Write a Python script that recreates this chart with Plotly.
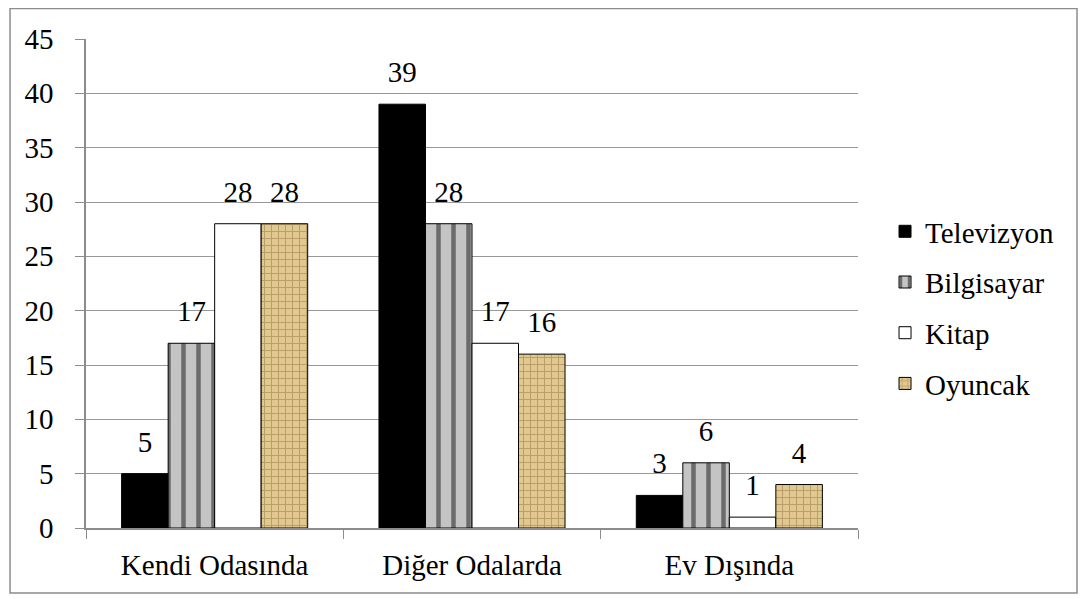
import plotly.graph_objects as go

categories = ["Kendi Odasında", "Diğer Odalarda", "Ev Dışında"]
series_names = ["Televizyon", "Bilgisayar", "Kitap", "Oyuncak"]
televizyon = [5, 39, 3]
bilgisayar = [17, 28, 6]
kitap = [28, 17, 1]
oyuncak = [28, 16, 4]
y_ticks = [0, 5, 10, 15, 20, 25, 30, 35, 40, 45]

FONT = "Liberation Serif"
FS = 29
GAP = 0.277

styles = [
    dict(color="#000000"),
    dict(color="#c4c4c4", pattern=dict(shape="|", fgcolor="#111111", bgcolor="#c4c4c4", size=15, solidity=0.3)),
    dict(color="#ffffff"),
    dict(color="#e0c88f", pattern=dict(shape="+", fgcolor="#8f7040", bgcolor="#e0c88f", size=7, solidity=0.25)),
]

fig = go.Figure()
all_vals = [televizyon, bilgisayar, kitap, oyuncak]
for i, (name, vals) in enumerate(zip(series_names, all_vals)):
    fig.add_trace(go.Bar(
        name=name, x=categories, y=vals,
        legendgroup=name, offsetgroup=str(i),
        marker=dict(line=dict(color="#000", width=1), **styles[i]),
        hoverinfo="skip",
    ))
for i, (name, vals) in enumerate(zip(series_names, all_vals)):
    fig.add_trace(go.Scatter(
        x=categories, y=vals, mode="markers+text",
        text=[str(v) for v in vals], textposition="top center",
        textfont=dict(family=FONT, size=FS, color="#000"),
        marker=dict(size=22, opacity=0),
        offsetgroup=str(i), showlegend=False, cliponaxis=False,
        hoverinfo="skip",
    ))

fig.update_layout(
    width=1078, height=591,
    paper_bgcolor="white", plot_bgcolor="white",
    barmode="group", bargap=GAP, bargroupgap=0,
    scattermode="group", scattergap=GAP,
    margin=dict(l=78, r=228, t=31, b=71),
    font=dict(family=FONT, size=FS, color="#000"),
    showlegend=True,
    legend=dict(x=1.035, y=0.451, xanchor="left", yanchor="middle",
                font=dict(family=FONT, size=FS, color="#000"),
                tracegroupgap=10, bgcolor="rgba(0,0,0,0)"),
    shapes=[dict(type="rect", xref="paper", yref="paper",
                 x0=-0.0984, x1=1.2837, y0=-0.133, y1=1.0624,
                 line=dict(color="#8c8c8c", width=1.5), layer="below")],
)
fig.update_xaxes(showline=True, linecolor="#8c8c8c", linewidth=1.5,
                 ticks="outside", tickson="boundaries", ticklen=9, tickcolor="#8c8c8c",
                 ticklabelstandoff=10,
                 tickfont=dict(family=FONT, size=FS), showgrid=False)
fig.update_yaxes(range=[0, 45], tickvals=y_ticks, showline=True, linecolor="#8c8c8c", linewidth=1.5,
                 ticks="outside", ticklen=9, tickcolor="#8c8c8c",
                 showgrid=True, gridcolor="#999999", gridwidth=1.2, zeroline=False,
                 ticklabelstandoff=16,
                 tickfont=dict(family=FONT, size=FS))

fig.write_html("out.html")
